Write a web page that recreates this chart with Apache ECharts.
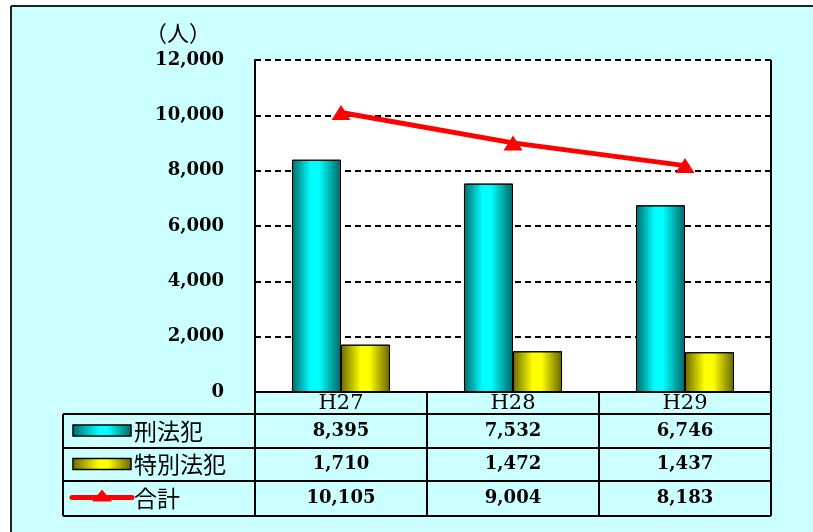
<!DOCTYPE html>
<html><head><meta charset="utf-8">
<script src="https://cdn.jsdelivr.net/npm/echarts@6/dist/echarts.min.js"></script>
<style>html,body{margin:0;padding:0;background:#fff;overflow:hidden}#c{width:813px;height:532px}</style>
</head><body><div id="c"></div>
<script>
// 検挙人員の推移（刑法犯・特別法犯・合計）
const years = ['H27', 'H28', 'H29'];
const keihou = [8395, 7532, 6746];
const tokubetsu = [1710, 1472, 1437];
const total = [10105, 9004, 8183];
const seriesNames = ['刑法犯', '特別法犯', '合計'];
const unitLabel = '（人）';
const yMin = 0, yMax = 12000, yStep = 2000;

const G = { left: 255, top: 60, right: 42, bottom: 140 };
const W = 813, H = 532;
const numFont = 'DejaVu Serif';

const cyanGrad = new echarts.graphic.LinearGradient(0, 0, 1, 0, [
  { offset: 0, color: '#006a6a' }, { offset: 0.38, color: '#00ffff' },
  { offset: 0.55, color: '#00ffff' }, { offset: 1, color: '#006464' }]);
const yellowGrad = new echarts.graphic.LinearGradient(0, 0, 1, 0, [
  { offset: 0, color: '#6a6a00' }, { offset: 0.4, color: '#ffff00' },
  { offset: 0.58, color: '#ffff00' }, { offset: 1, color: '#646400' }]);
const fmt = v => v.toLocaleString('en-US');

const chart = echarts.init(document.getElementById('c'), null, { renderer: 'canvas' });
chart.setOption({
  backgroundColor: '#ffffff',
  animation: false,
  grid: { left: G.left, top: G.top, right: G.right, bottom: G.bottom, show: true,
          backgroundColor: '#ffffff', borderWidth: 0 },
  xAxis: { type: 'category', data: years,
    axisLine: { lineStyle: { color: '#000', width: 2 } },
    axisTick: { show: false }, axisLabel: { show: false }, splitLine: { show: false } },
  yAxis: { type: 'value', min: yMin, max: yMax, interval: yStep,
    axisLine: { show: true, lineStyle: { color: '#000', width: 2 } },
    axisTick: { show: false },
    axisLabel: { margin: 31, formatter: fmt, fontFamily: numFont, fontWeight: 'bold', fontSize: 18, color: '#000' },
    splitLine: { show: true, lineStyle: { color: '#000', width: 2, type: [6, 4] } } },
  series: [
    { name: seriesNames[0], type: 'bar', data: keihou, barGap: '0%', barCategoryGap: '43%',
      itemStyle: { color: cyanGrad, borderColor: '#000', borderWidth: 1 } },
    { name: seriesNames[1], type: 'bar', data: tokubetsu, barGap: '0%', barCategoryGap: '43%',
      itemStyle: { color: yellowGrad, borderColor: '#000', borderWidth: 1 } },
    { name: seriesNames[2], type: 'line', data: total, symbol: 'triangle', symbolSize: [19, 15],
      lineStyle: { color: '#ff0000', width: 5 }, itemStyle: { color: '#ff0000' }, z: 5 }
  ]
});

// Data table under the plot, aligned to the category columns
const x0 = G.left, x1 = W - G.right, yAxisPx = H - G.bottom;
const cellW = (x1 - x0) / years.length;
const tableLeft = 63;
const rowY = [yAxisPx, 414, 448, 481, 516];
const line = (xa, ya, xb, yb, w, c) => ({ type: 'line', silent: true, z: 100,
  shape: { x1: xa, y1: ya, x2: xb, y2: yb }, style: { stroke: c || '#000', lineWidth: w || 2 } });
const text = (t, x, y, font, align) => ({ type: 'text', silent: true, z: 101, x: x, y: y,
  style: { text: t, font: font, fill: '#000', align: align || 'center', verticalAlign: 'middle' } });

const els = [];
// page panel: fill plus top/left frame
els.push({ type: 'rect', silent: true, z: -100, shape: { x: 11, y: 6, width: W - 11, height: H - 6 },
  style: { fill: '#ccffff' } });
els.push(line(11, 6, W, 6, 2, '#222'));
els.push(line(11, 6, 11, H, 2, '#222'));
// unit label
els.push(text(unitLabel, 145, 33, '22px "Noto Sans CJK JP"', 'left'));
// right border of plot
els.push(line(x1, G.top, x1, yAxisPx, 2));
// verticals
for (let i = 0; i <= years.length; i++) els.push(line(x0 + i * cellW, yAxisPx, x0 + i * cellW, rowY[4]));
els.push(line(tableLeft, rowY[1], tableLeft, rowY[4]));
for (let r = 1; r <= 4; r++) els.push(line(tableLeft, rowY[r], x1, rowY[r]));

const valFont = 'bold 18px "DejaVu Serif"';
const rows = [keihou, tokubetsu, total];
years.forEach((yr, i) => {
  const cx = chart.convertToPixel({ xAxisIndex: 0 }, yr);
  els.push(text(yr, cx, (rowY[0] + rowY[1]) / 2 + 1, '21px "DejaVu Serif"'));
  rows.forEach((arr, r) => els.push(text(fmt(arr[i]), cx, (rowY[r + 1] + rowY[r + 2]) / 2, valFont)));
});
// row headers with legend keys
const labFont = '23px "Noto Sans CJK JP"';
const rc = r => (rowY[r + 1] + rowY[r + 2]) / 2;
els.push({ type: 'rect', silent: true, z: 101, shape: { x: 73, y: rc(0) - 6, width: 58, height: 11 },
  style: { fill: new echarts.graphic.LinearGradient(0, 0, 1, 0, [
    { offset: 0, color: '#006a6a' }, { offset: 0.45, color: '#00ffff' }, { offset: 0.6, color: '#00ffff' }, { offset: 1, color: '#006464' }]),
    stroke: '#000', lineWidth: 1.5 } });
els.push({ type: 'rect', silent: true, z: 101, shape: { x: 73, y: rc(1) - 6, width: 58, height: 11 },
  style: { fill: new echarts.graphic.LinearGradient(0, 0, 1, 0, [
    { offset: 0, color: '#6a6a00' }, { offset: 0.45, color: '#ffff00' }, { offset: 0.6, color: '#ffff00' }, { offset: 1, color: '#646400' }]),
    stroke: '#000', lineWidth: 1.5 } });
els.push({ type: 'line', silent: true, z: 101, shape: { x1: 72, y1: rc(2) - 1, x2: 132, y2: rc(2) - 1 },
  style: { stroke: '#ff0000', lineWidth: 5, lineCap: 'round' } });
els.push({ type: 'polygon', silent: true, z: 102,
  shape: { points: [[102, rc(2) - 9], [92, rc(2) + 3], [112, rc(2) + 3]] }, style: { fill: '#ff0000' } });
seriesNames.forEach((n, r) => els.push(text(n, 134, rc(r), labFont, 'left')));

chart.setOption({ graphic: { elements: els } });
</script>
</body></html>
